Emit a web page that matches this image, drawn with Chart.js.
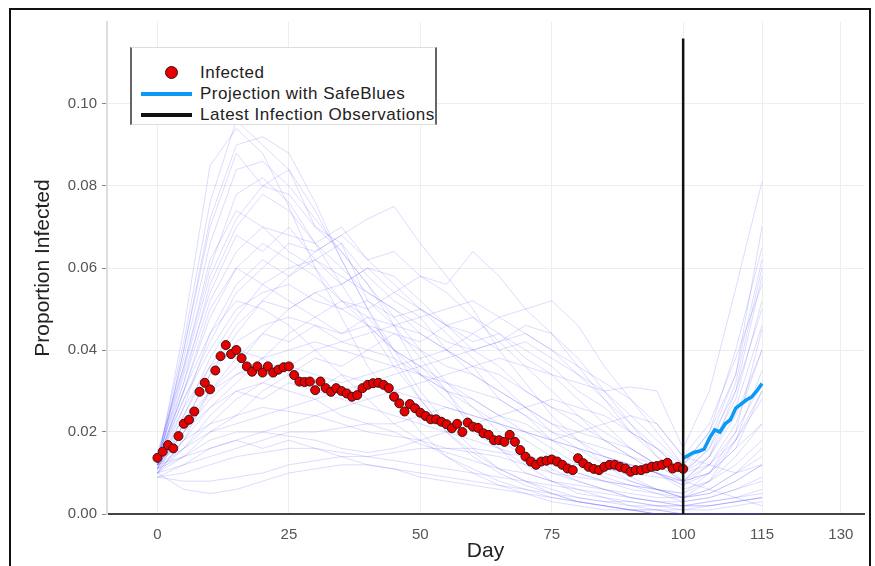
<!DOCTYPE html>
<html>
<head>
<meta charset="utf-8">
<script src="https://cdn.jsdelivr.net/npm/chart.js@4"></script>
<style>
  body { margin: 0; background: #fff; }
  #wrap { position: relative; width: 875px; height: 566px; overflow: hidden; font-family: "Liberation Sans", Arial, sans-serif; }
  #frame { position: absolute; left: 9px; top: 8px; width: 858px; height: 600px; border: 2px solid #111; pointer-events: none; }
  #legend { position: absolute; left: 130px; top: 47px; width: 303px; height: 76px; background: #fff;
            border-left: 2px solid #666; border-right: 2px solid #666; border-top: 1px solid #ddd; border-bottom: 1px solid #ddd; }
  .row { position: absolute; left: 0; height: 20px; width: 100%; }
  .row span { position: absolute; left: 68px; top: 0; font-size: 17px; line-height: 20px; color: #222; white-space: nowrap; letter-spacing: 0.5px; }
  .sw { position: absolute; }
</style>
</head>
<body>
<div id="wrap">
  <canvas id="chart" width="875" height="566"></canvas>
  <div id="frame"></div>
  <div id="legend"></div>
</div>
<script>
// observed infected proportion, day 0..100
var infected = [
  0.0137, 0.0152, 0.0168, 0.0160, 0.0190, 0.0220, 0.0230, 0.0250, 0.0298, 0.0320,
  0.0304, 0.0350, 0.0385, 0.0412, 0.0390, 0.0400, 0.0380, 0.0360, 0.0347, 0.0360,
  0.0345, 0.0360, 0.0345, 0.0352, 0.0358, 0.0360, 0.0339, 0.0323, 0.0322, 0.0323,
  0.0302, 0.0323, 0.0307, 0.0298, 0.0307, 0.0300, 0.0294, 0.0286, 0.0290, 0.0307,
  0.0315, 0.0319, 0.0320, 0.0315, 0.0307, 0.0286, 0.0270, 0.0250, 0.0268, 0.0258,
  0.0247, 0.0239, 0.0231, 0.0231, 0.0225, 0.0219, 0.0209, 0.0220, 0.0200, 0.0223,
  0.0213, 0.0210, 0.0197, 0.0193, 0.0180, 0.0180, 0.0176, 0.0193, 0.0176, 0.0156,
  0.0140, 0.0128, 0.0120, 0.0128, 0.0130, 0.0133, 0.0128, 0.0120, 0.0111, 0.0107,
  0.0136, 0.0124, 0.0115, 0.0110, 0.0107, 0.0115, 0.0120, 0.0120, 0.0115, 0.0111,
  0.0103, 0.0107, 0.0107, 0.0111, 0.0115, 0.0117, 0.0120, 0.0125, 0.0111, 0.0115,
  0.0110
];

// projection with SafeBlues, day 100..115
var projStart = 100;
var projection = [0.0136, 0.0143, 0.0150, 0.0153, 0.0158, 0.0185, 0.0205, 0.0200,
                  0.0220, 0.0230, 0.0258, 0.0268, 0.0278, 0.0285, 0.0300, 0.0318];

// simulated trajectories, sampled every 5 days from day 0 to 115
var simDays = [0, 5, 10, 15, 20, 25, 30, 35, 40, 45, 50, 55, 60, 65, 70, 75, 80, 85, 90, 95, 100, 105, 110, 115];
var simulated = [
  [0.012, 0.045, 0.085, 0.094, 0.088, 0.075, 0.060, 0.048, 0.036, 0.028, 0.020, 0.014, 0.010, 0.007, 0.005, 0.003, 0.002, 0.001, 0.001, 0.000, 0.000, 0.000, 0.000, 0.000],
  [0.011, 0.040, 0.072, 0.090, 0.092, 0.088, 0.076, 0.062, 0.050, 0.038, 0.028, 0.020, 0.014, 0.010, 0.007, 0.005, 0.003, 0.002, 0.001, 0.001, 0.000, 0.000, 0.000, 0.000],
  [0.013, 0.035, 0.058, 0.072, 0.080, 0.078, 0.070, 0.064, 0.056, 0.046, 0.038, 0.030, 0.022, 0.016, 0.012, 0.008, 0.006, 0.004, 0.003, 0.002, 0.002, 0.003, 0.004, 0.006],
  [0.012, 0.022, 0.034, 0.044, 0.052, 0.058, 0.064, 0.068, 0.072, 0.075, 0.066, 0.058, 0.050, 0.040, 0.032, 0.024, 0.018, 0.012, 0.008, 0.006, 0.004, 0.006, 0.010, 0.014],
  [0.010, 0.018, 0.026, 0.032, 0.038, 0.044, 0.048, 0.052, 0.050, 0.054, 0.058, 0.056, 0.064, 0.058, 0.050, 0.044, 0.036, 0.028, 0.020, 0.014, 0.010, 0.014, 0.024, 0.040],
  [0.011, 0.016, 0.022, 0.028, 0.032, 0.036, 0.040, 0.042, 0.044, 0.046, 0.048, 0.050, 0.052, 0.048, 0.050, 0.052, 0.046, 0.036, 0.028, 0.020, 0.012, 0.020, 0.040, 0.065],
  [0.012, 0.014, 0.016, 0.018, 0.020, 0.022, 0.024, 0.026, 0.028, 0.030, 0.032, 0.034, 0.036, 0.038, 0.036, 0.034, 0.032, 0.030, 0.031, 0.030, 0.016, 0.030, 0.055, 0.081],
  [0.013, 0.030, 0.048, 0.060, 0.066, 0.062, 0.058, 0.052, 0.046, 0.040, 0.036, 0.030, 0.026, 0.022, 0.018, 0.014, 0.010, 0.008, 0.006, 0.005, 0.004, 0.008, 0.018, 0.035],
  [0.012, 0.028, 0.040, 0.050, 0.054, 0.056, 0.052, 0.050, 0.046, 0.044, 0.040, 0.036, 0.034, 0.030, 0.026, 0.022, 0.018, 0.014, 0.012, 0.010, 0.008, 0.014, 0.030, 0.058],
  [0.010, 0.022, 0.034, 0.042, 0.046, 0.048, 0.046, 0.042, 0.040, 0.038, 0.034, 0.030, 0.028, 0.024, 0.022, 0.018, 0.016, 0.014, 0.012, 0.010, 0.008, 0.010, 0.016, 0.022],
  [0.014, 0.032, 0.052, 0.064, 0.070, 0.068, 0.066, 0.060, 0.054, 0.050, 0.044, 0.040, 0.034, 0.030, 0.026, 0.022, 0.020, 0.018, 0.016, 0.012, 0.010, 0.018, 0.034, 0.070],
  [0.011, 0.020, 0.028, 0.034, 0.038, 0.040, 0.042, 0.040, 0.038, 0.036, 0.034, 0.032, 0.030, 0.028, 0.024, 0.020, 0.018, 0.016, 0.014, 0.012, 0.010, 0.012, 0.018, 0.028],
  [0.009, 0.010, 0.012, 0.014, 0.015, 0.016, 0.016, 0.015, 0.014, 0.013, 0.012, 0.011, 0.010, 0.009, 0.008, 0.007, 0.006, 0.005, 0.004, 0.003, 0.003, 0.004, 0.006, 0.008],
  [0.010, 0.006, 0.005, 0.006, 0.008, 0.010, 0.011, 0.012, 0.012, 0.011, 0.010, 0.009, 0.008, 0.007, 0.006, 0.005, 0.004, 0.003, 0.003, 0.002, 0.002, 0.002, 0.003, 0.004],
  [0.012, 0.018, 0.022, 0.024, 0.026, 0.025, 0.024, 0.022, 0.020, 0.019, 0.018, 0.016, 0.015, 0.014, 0.012, 0.010, 0.009, 0.008, 0.007, 0.006, 0.005, 0.008, 0.014, 0.022],
  [0.013, 0.026, 0.036, 0.040, 0.038, 0.034, 0.030, 0.028, 0.026, 0.024, 0.022, 0.020, 0.018, 0.016, 0.014, 0.012, 0.010, 0.008, 0.007, 0.006, 0.005, 0.010, 0.020, 0.045],
  [0.012, 0.020, 0.030, 0.038, 0.044, 0.050, 0.054, 0.056, 0.060, 0.058, 0.052, 0.046, 0.040, 0.036, 0.030, 0.026, 0.022, 0.018, 0.014, 0.010, 0.007, 0.012, 0.022, 0.040],
  [0.010, 0.014, 0.018, 0.020, 0.020, 0.019, 0.018, 0.016, 0.015, 0.016, 0.018, 0.020, 0.022, 0.024, 0.026, 0.028, 0.026, 0.024, 0.020, 0.016, 0.012, 0.018, 0.030, 0.050],
  [0.015, 0.036, 0.060, 0.078, 0.082, 0.076, 0.066, 0.056, 0.046, 0.036, 0.028, 0.020, 0.015, 0.011, 0.008, 0.006, 0.004, 0.003, 0.002, 0.001, 0.001, 0.001, 0.002, 0.003],
  [0.011, 0.024, 0.038, 0.048, 0.056, 0.060, 0.062, 0.058, 0.054, 0.050, 0.046, 0.042, 0.040, 0.042, 0.046, 0.044, 0.038, 0.030, 0.022, 0.014, 0.008, 0.010, 0.016, 0.030],
  [0.012, 0.016, 0.020, 0.022, 0.024, 0.026, 0.028, 0.030, 0.032, 0.034, 0.036, 0.038, 0.040, 0.042, 0.044, 0.040, 0.034, 0.028, 0.022, 0.016, 0.010, 0.016, 0.032, 0.060],
  [0.013, 0.030, 0.044, 0.052, 0.050, 0.046, 0.040, 0.034, 0.028, 0.022, 0.018, 0.014, 0.011, 0.008, 0.006, 0.004, 0.003, 0.002, 0.001, 0.000, 0.000, 0.000, 0.000, 0.000],
  [0.010, 0.012, 0.014, 0.016, 0.018, 0.020, 0.020, 0.021, 0.022, 0.022, 0.024, 0.026, 0.024, 0.022, 0.020, 0.018, 0.020, 0.022, 0.024, 0.022, 0.014, 0.012, 0.010, 0.012],
  [0.014, 0.038, 0.066, 0.084, 0.086, 0.080, 0.072, 0.064, 0.056, 0.048, 0.040, 0.032, 0.026, 0.020, 0.015, 0.011, 0.008, 0.006, 0.004, 0.003, 0.002, 0.003, 0.004, 0.005],
  [0.011, 0.022, 0.030, 0.034, 0.036, 0.036, 0.034, 0.032, 0.034, 0.036, 0.038, 0.040, 0.044, 0.048, 0.044, 0.040, 0.036, 0.032, 0.028, 0.022, 0.014, 0.022, 0.038, 0.056],
  [0.009, 0.008, 0.008, 0.009, 0.010, 0.012, 0.013, 0.014, 0.014, 0.015, 0.016, 0.016, 0.016, 0.015, 0.014, 0.013, 0.012, 0.011, 0.010, 0.009, 0.008, 0.006, 0.004, 0.002],
  [0.012, 0.040, 0.070, 0.088, 0.080, 0.084, 0.070, 0.066, 0.052, 0.046, 0.034, 0.030, 0.020, 0.016, 0.010, 0.008, 0.005, 0.004, 0.002, 0.002, 0.001, 0.002, 0.003, 0.004],
  [0.013, 0.034, 0.054, 0.068, 0.064, 0.070, 0.062, 0.066, 0.058, 0.052, 0.048, 0.040, 0.036, 0.028, 0.024, 0.018, 0.014, 0.010, 0.008, 0.006, 0.004, 0.006, 0.010, 0.016],
  [0.011, 0.026, 0.044, 0.056, 0.062, 0.058, 0.062, 0.056, 0.060, 0.054, 0.050, 0.046, 0.042, 0.044, 0.038, 0.034, 0.028, 0.022, 0.016, 0.012, 0.008, 0.012, 0.020, 0.032],
  [0.012, 0.030, 0.050, 0.060, 0.056, 0.052, 0.048, 0.044, 0.046, 0.040, 0.036, 0.032, 0.028, 0.024, 0.020, 0.016, 0.012, 0.009, 0.007, 0.005, 0.003, 0.004, 0.006, 0.009],
  [0.010, 0.018, 0.030, 0.036, 0.044, 0.042, 0.046, 0.044, 0.048, 0.046, 0.044, 0.040, 0.036, 0.034, 0.030, 0.026, 0.024, 0.020, 0.016, 0.012, 0.008, 0.014, 0.026, 0.046],
  [0.014, 0.036, 0.062, 0.074, 0.070, 0.064, 0.060, 0.052, 0.048, 0.040, 0.034, 0.028, 0.022, 0.018, 0.014, 0.010, 0.008, 0.006, 0.004, 0.003, 0.002, 0.002, 0.003, 0.004],
  [0.012, 0.024, 0.036, 0.046, 0.052, 0.050, 0.054, 0.050, 0.052, 0.048, 0.050, 0.046, 0.048, 0.044, 0.040, 0.036, 0.030, 0.026, 0.020, 0.016, 0.010, 0.016, 0.028, 0.052],
  [0.010, 0.016, 0.024, 0.030, 0.028, 0.032, 0.030, 0.034, 0.032, 0.030, 0.028, 0.026, 0.024, 0.022, 0.020, 0.018, 0.016, 0.014, 0.012, 0.010, 0.006, 0.008, 0.012, 0.018],
  [0.013, 0.042, 0.076, 0.096, 0.090, 0.084, 0.074, 0.062, 0.050, 0.040, 0.030, 0.022, 0.016, 0.011, 0.008, 0.005, 0.003, 0.002, 0.001, 0.000, 0.000, 0.000, 0.000, 0.000],
  [0.011, 0.014, 0.020, 0.024, 0.030, 0.034, 0.038, 0.036, 0.040, 0.044, 0.042, 0.046, 0.044, 0.040, 0.042, 0.038, 0.034, 0.030, 0.024, 0.018, 0.012, 0.020, 0.034, 0.062],
  [0.012, 0.020, 0.026, 0.030, 0.032, 0.030, 0.028, 0.024, 0.022, 0.020, 0.017, 0.015, 0.013, 0.011, 0.010, 0.008, 0.007, 0.006, 0.005, 0.004, 0.004, 0.005, 0.008, 0.012],
  [0.009, 0.012, 0.016, 0.018, 0.016, 0.018, 0.016, 0.014, 0.012, 0.011, 0.009, 0.008, 0.007, 0.006, 0.005, 0.004, 0.003, 0.002, 0.001, 0.001, 0.000, 0.000, 0.000, 0.000],
  [0.013, 0.028, 0.042, 0.054, 0.060, 0.066, 0.064, 0.068, 0.062, 0.064, 0.058, 0.054, 0.048, 0.042, 0.036, 0.030, 0.024, 0.018, 0.014, 0.010, 0.007, 0.010, 0.018, 0.030],
  [0.012, 0.032, 0.056, 0.070, 0.078, 0.074, 0.066, 0.070, 0.062, 0.056, 0.050, 0.044, 0.038, 0.032, 0.026, 0.020, 0.016, 0.012, 0.009, 0.006, 0.004, 0.005, 0.008, 0.012]
];

var latestDay = 100;
var vlineTop = 0.116;

var xTicks = [0, 25, 50, 75, 100, 115, 130];
var yTicks = [0, 0.02, 0.04, 0.06, 0.08, 0.10];

var datasets = [];

datasets.push({
    label: 'Latest Infection Observations',
    data: [{x: latestDay, y: 0}, {x: latestDay, y: vlineTop}],
    borderColor: '#111',
    borderWidth: 2.5,
    pointRadius: 0,
    order: 0
});

datasets.push({
    label: 'Projection with SafeBlues',
    data: projection.map((v, i) => ({x: projStart + i, y: v})),
    borderColor: '#0a9af5',
    borderWidth: 3.5,
    pointRadius: 0,
    order: 1
});

datasets.push({
    label: 'Infected',
    data: infected.map((v, i) => ({x: i, y: v})),
    showLine: false,
    backgroundColor: '#e60000',
    borderColor: '#3a1010',
    borderWidth: 1,
    pointRadius: 4.5,
    order: 2
});

simulated.forEach(function(traj) {
    datasets.push({
        label: '',
        data: traj.map((v, i) => ({x: simDays[i], y: v})),
        borderColor: 'rgba(70, 70, 255, 0.19)',
        borderWidth: 1,
        pointRadius: 0,
        order: 3
    });
});

var ctx = document.getElementById('chart').getContext('2d');
var chart = new Chart(ctx, {
    type: 'line',
    data: { datasets: datasets },
    options: {
        responsive: false,
        animation: false,
        layout: { padding: { top: 22, right: 11, left: 0, bottom: 0 } },
        plugins: {
            legend: { display: false },
            tooltip: { enabled: false }
        },
        scales: {
            x: {
                type: 'linear',
                min: -9.6,
                max: 134.4,
                afterBuildTicks: function(s) { s.ticks = xTicks.map(v => ({value: v})); },
                afterFit: function(s) { s.height = 52; },
                grid: { color: '#eeeeee', drawTicks: false },
                border: { color: '#444', width: 2 },
                ticks: {
                    autoSkip: false, maxRotation: 0, padding: 12, color: '#555',
                    font: { family: 'Liberation Sans', size: 15 },
                    callback: v => v
                },
                title: {
                    display: true, text: 'Day', color: '#222',
                    font: { family: 'Liberation Sans', size: 21 },
                    padding: { top: 0, bottom: 2 }
                }
            },
            y: {
                min: 0,
                max: 0.12,
                afterBuildTicks: function(s) { s.ticks = yTicks.map(v => ({value: v})); },
                afterFit: function(s) { s.width = 107; },
                grid: { color: '#eeeeee', tickColor: '#888', tickLength: 5 },
                border: { color: '#dddddd', width: 2 },
                ticks: {
                    autoSkip: false, padding: 5, color: '#555',
                    font: { family: 'Liberation Sans', size: 15 },
                    callback: v => v.toFixed(2)
                },
                title: {
                    display: true, text: 'Proportion Infected', color: '#222',
                    font: { family: 'Liberation Sans', size: 21 },
                    padding: { top: 31, bottom: 0 }
                }
            }
        }
    }
});

// html legend built from the first three datasets
function buildLegend() {
    var box = document.getElementById('legend');
    var rows = [chart.data.datasets[2], chart.data.datasets[1], chart.data.datasets[0]];
    rows.forEach(function(ds, i) {
        var row = document.createElement('div');
        row.className = 'row';
        row.style.top = (15 + i * 21) + 'px';
        var sw = document.createElement('div');
        sw.className = 'sw';
        if (i === 0) {
            sw.style.cssText = 'left:33px;top:3px;width:13px;height:13px;border-radius:50%;background:' +
                ds.backgroundColor + ';border:1px solid ' + ds.borderColor + ';box-sizing:border-box;';
        } else {
            sw.style.cssText = 'left:9px;top:8px;width:51px;height:4px;background:' + ds.borderColor + ';';
        }
        var txt = document.createElement('span');
        txt.textContent = ds.label;
        row.appendChild(sw);
        row.appendChild(txt);
        box.appendChild(row);
    });
}
buildLegend();
</script>
</body>
</html>
